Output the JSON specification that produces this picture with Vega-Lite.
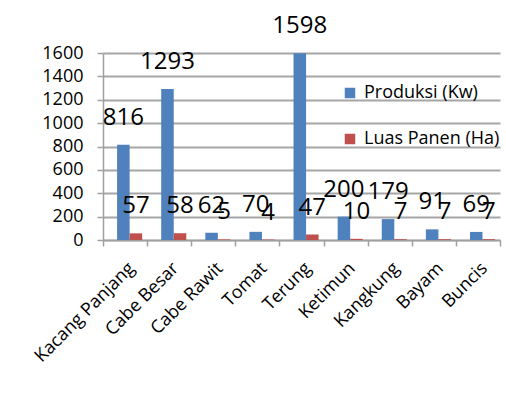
{
  "$schema": "https://vega.github.io/schema/vega-lite/v6.json",
  "width": 397,
  "height": 187,
  "autosize": {"type": "none"},
  "padding": {"left": 103, "top": 53, "right": 6, "bottom": 165},
  "background": "white",
  "config": {
    "font": "Open Sans",
    "view": {"stroke": null},
    "axis": {"labelFont": "Open Sans", "labelColor": "#000000"}
  },
  "data": {
    "values": [
      {"tanaman": "Kacang Panjang", "seri": "Produksi (Kw)", "nilai": 816},
      {"tanaman": "Kacang Panjang", "seri": "Luas Panen (Ha)", "nilai": 57},
      {"tanaman": "Cabe Besar", "seri": "Produksi (Kw)", "nilai": 1293},
      {"tanaman": "Cabe Besar", "seri": "Luas Panen (Ha)", "nilai": 58},
      {"tanaman": "Cabe Rawit", "seri": "Produksi (Kw)", "nilai": 62},
      {"tanaman": "Cabe Rawit", "seri": "Luas Panen (Ha)", "nilai": 5},
      {"tanaman": "Tomat", "seri": "Produksi (Kw)", "nilai": 70},
      {"tanaman": "Tomat", "seri": "Luas Panen (Ha)", "nilai": 4},
      {"tanaman": "Terung", "seri": "Produksi (Kw)", "nilai": 1598},
      {"tanaman": "Terung", "seri": "Luas Panen (Ha)", "nilai": 47},
      {"tanaman": "Ketimun", "seri": "Produksi (Kw)", "nilai": 200},
      {"tanaman": "Ketimun", "seri": "Luas Panen (Ha)", "nilai": 10},
      {"tanaman": "Kangkung", "seri": "Produksi (Kw)", "nilai": 179},
      {"tanaman": "Kangkung", "seri": "Luas Panen (Ha)", "nilai": 7},
      {"tanaman": "Bayam", "seri": "Produksi (Kw)", "nilai": 91},
      {"tanaman": "Bayam", "seri": "Luas Panen (Ha)", "nilai": 7},
      {"tanaman": "Buncis", "seri": "Produksi (Kw)", "nilai": 69},
      {"tanaman": "Buncis", "seri": "Luas Panen (Ha)", "nilai": 7}
    ]
  },
  "encoding": {
    "x": {
      "field": "tanaman",
      "type": "nominal",
      "sort": null,
      "scale": {"paddingInner": 0, "paddingOuter": 0},
      "axis": {
        "title": null,
        "labelAngle": -45,
        "labelFontSize": 18,
        "labelPadding": 13,
        "domainColor": "#A0A0A0",
        "domainWidth": 1.5,
        "tickColor": "#A0A0A0",
        "tickWidth": 1.5,
        "tickSize": 6,
        "tickBand": "extent"
      }
    },
    "xOffset": {
      "field": "seri",
      "type": "nominal",
      "sort": ["Produksi (Kw)", "Luas Panen (Ha)"],
      "scale": {"paddingInner": 0, "paddingOuter": 0.76, "align": 0.74}
    },
    "y": {
      "field": "nilai",
      "type": "quantitative",
      "scale": {"domain": [0, 1600], "nice": false},
      "axis": {
        "title": null,
        "format": "d",
        "values": [0, 200, 400, 600, 800, 1000, 1200, 1400, 1600],
        "labelFontSize": 18,
        "labelPadding": 14,
        "domainColor": "#A0A0A0",
        "domainWidth": 1.5,
        "tickColor": "#A0A0A0",
        "tickWidth": 1.5,
        "tickSize": 6,
        "gridColor": "#A6A6A6",
        "gridWidth": 2
      }
    }
  },
  "layer": [
    {
      "mark": {"type": "bar"},
      "encoding": {
        "color": {
          "field": "seri",
          "type": "nominal",
          "sort": ["Produksi (Kw)", "Luas Panen (Ha)"],
          "scale": {"domain": ["Produksi (Kw)", "Luas Panen (Ha)"], "range": ["#4F81BD", "#C0504D"]},
          "legend": {
            "title": null,
            "orient": "none",
            "legendX": 238,
            "legendY": 31,
            "symbolType": "square",
            "symbolSize": 110,
            "symbolStrokeWidth": 0,
            "labelFontSize": 18,
            "labelFont": "Open Sans",
            "labelColor": "#000000",
            "labelOffset": 5,
            "rowPadding": 28
          }
        }
      }
    },
    {
      "mark": {"type": "text", "fontSize": 24, "baseline": "middle", "dy": -27, "color": "#000000", "font": "Open Sans"},
      "encoding": {
        "text": {"field": "nilai", "type": "quantitative"}
      }
    }
  ]
}
